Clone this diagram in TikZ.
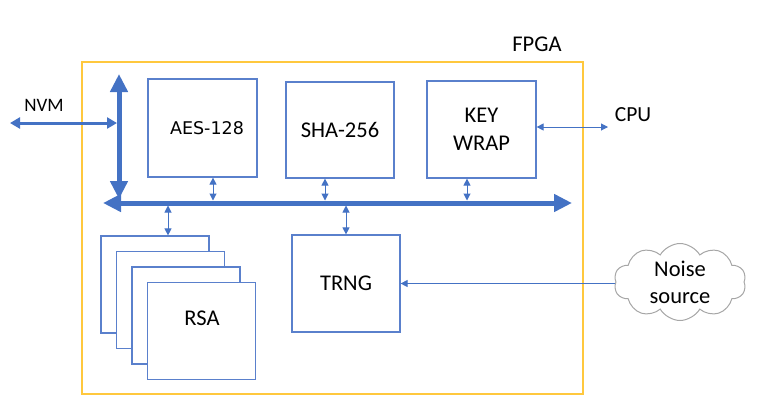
\documentclass[tikz,border=0pt]{standalone}
\usepackage{fontspec}
\setmainfont{Carlito}
\newfontfamily\dejavu{DejaVu Sans}
\usetikzlibrary{arrows.meta,shapes.symbols}
\definecolor{busblue}{HTML}{4472C4}
\definecolor{boxblue}{HTML}{5A80CC}
\definecolor{fpgay}{HTML}{FFC83D}
\definecolor{cloudgray}{HTML}{A6A6A6}
\begin{document}
\begin{tikzpicture}[x=1bp,y=-1bp,
  box/.style={draw=boxblue, line width=1.2bp, fill=white, inner sep=0pt, align=center,
    minimum width=109bp, minimum height=98bp, font=\fontsize{22.5bp}{28bp}\selectfont},
  lbl/.style={inner sep=0pt, align=center, font=\fontsize{22.5bp}{28bp}\selectfont},
  bus/.style={draw=busblue, line width=5bp, {Triangle[width=17bp,length=18bp]}-{Triangle[width=17bp,length=18bp]}},
  nvmarrow/.style={draw=busblue, line width=3bp, {Triangle[width=11bp,length=10bp]}-{Triangle[width=11bp,length=10bp]}},
  conn/.style={draw=busblue, line width=1bp, {Triangle[width=7bp,length=7bp]}-{Triangle[width=7bp,length=7bp]}},
  conn1/.style={draw=busblue, line width=1bp, -{Triangle[width=7bp,length=7bp]}}
]
\useasboundingbox (0,0) rectangle (761,417);
% FPGA outline
\node[draw=fpgay, line width=1.3bp, minimum width=501bp, minimum height=332bp, inner sep=0pt] (fpga) at (332.5,228) {};
\node[lbl] (fpgalbl) at (537,44) {FPGA};
% top blocks
\node[box] (aes) at (202.5,128) {\dejavu\fontsize{17.5bp}{21bp}\selectfont\hspace{9bp}AES-128};
\node[box, minimum width=108bp, minimum height=96bp] (sha) at (340,130) {SHA-256};
\node[box, minimum height=97bp] (kw) at (481.5,129.5) {KEY\\WRAP};
% RSA stack
\node[box, minimum width=108bp, minimum height=97bp] (rsa1) at (155,284.5) {};
\node[box, minimum width=108bp, minimum height=97bp] (rsa2) at (170.5,300) {};
\node[box, minimum width=108bp, minimum height=97bp] (rsa3) at (186,315.5) {};
\node[box, minimum width=108bp, minimum height=97bp] (rsa4) at (201.5,331) {};
\node[lbl] (rsalbl) at (202,318) {RSA};
% TRNG
\node[box, minimum width=108bp, minimum height=97bp] (trng) at (346,283.5) {TRNG};
% noise source
\node[cloud, draw=cloudgray, line width=1bp, cloud puffs=10, cloud puff arc=120, aspect=1.7,
  minimum width=132bp, minimum height=77bp, inner sep=0pt, align=center,
  font=\fontsize{22.5bp}{27bp}\selectfont] (noise) at (680,282) {Noise\\source};
% external labels
\node[lbl, font=\fontsize{19bp}{23bp}\selectfont] (nvmlbl) at (44,105) {NVM};
\node[lbl, font=\fontsize{21.5bp}{26bp}\selectfont] (cpulbl) at (633,115) {CPU};
% bus coordinates
\coordinate (vtop) at (119,74);
\coordinate (vbot) at (119,199);
\coordinate (hl) at (103,203);
\coordinate (hr) at (572,203);
\coordinate (nvm) at (10,123);
\coordinate (nvmbus) at (117,123);
\coordinate (cpu) at (608,127);
\coordinate (baes) at (213,200.5);
\coordinate (bsha) at (325,200.5);
\coordinate (bkw) at (467,200.5);
\coordinate (brsa) at (168,205.5);
\coordinate (btrng) at (346,205.5);
% buses
\draw[bus] (vtop) -- (vbot);
\draw[bus] (hl) -- (hr);
\draw[nvmarrow] (nvm) -- (nvmbus);
% connectors
\draw[conn] (aes.south -| baes) -- (baes);
\draw[conn] (sha.south -| bsha) -- (bsha);
\draw[conn] (kw.south -| bkw) -- (bkw);
\draw[conn] (brsa) -- (brsa |- rsa1.north);
\draw[conn] (btrng) -- (trng.north);
\draw[conn] (kw.east |- cpu) -- (cpu);
\draw[conn1] (noise.west |- trng.east) -- (trng.east);
\end{tikzpicture}
\end{document}
